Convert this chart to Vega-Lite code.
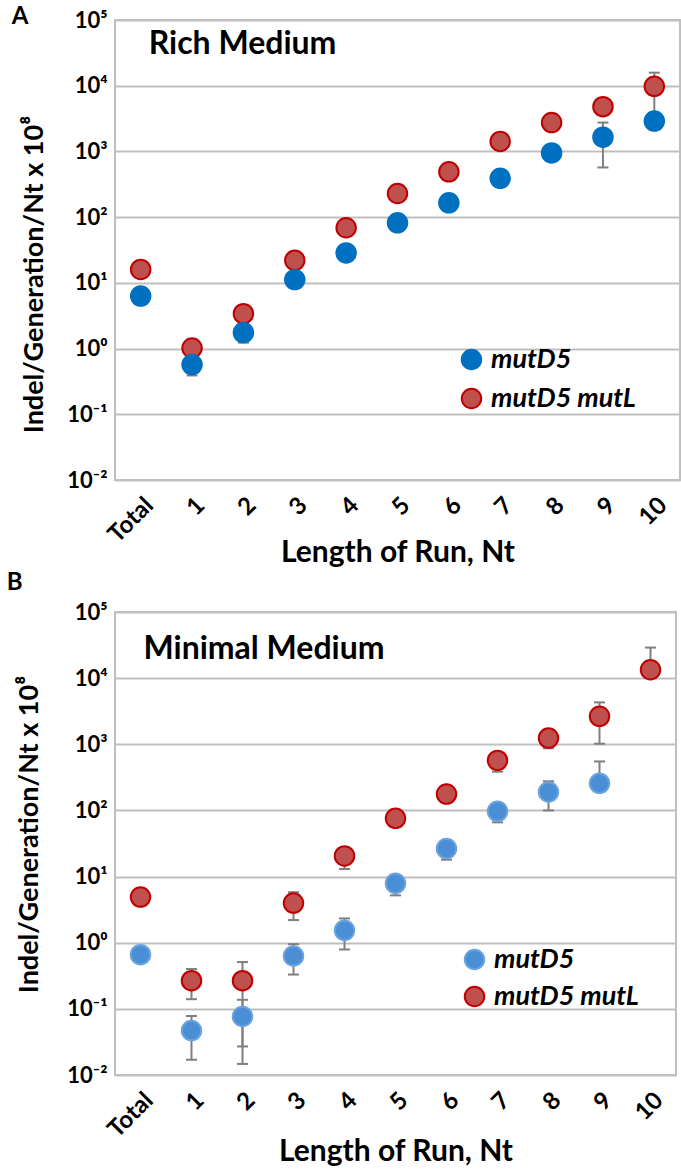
{
  "$schema": "https://vega.github.io/schema/vega-lite/v6.json",
  "background": "white",
  "padding": {"left": 5, "top": 4, "right": 0, "bottom": 0},
  "spacing": 1,
  "config": {
    "font": "Lato",
    "view": {"stroke": "#BFBFBF", "strokeWidth": 2},
    "axis": {"labelFont": "Lato", "labelFontWeight": "bold", "labelFontSize": 22, "labelColor": "#000", "titleFont": "Lato", "titleFontWeight": "bold", "titleFontSize": 27, "titleColor": "#000", "domain": false, "ticks": false, "gridColor": "#BFBFBF", "gridWidth": 2},
    "legend": {"labelFont": "Lato", "labelFontWeight": "bold", "labelFontStyle": "italic", "labelFontSize": 27, "labelColor": "#000", "symbolSize": 380, "symbolStrokeWidth": 2, "labelOffset": 6, "rowPadding": 10},
    "title": {"font": "Lato", "fontWeight": "bold", "fontSize": 24, "color": "#000"}
  },
  "datasets": {
    "rich": [
      {"run": "Total", "strain": "mutD5 mutL", "rate": 16},
      {"run": "1", "strain": "mutD5 mutL", "rate": 1.02},
      {"run": "2", "strain": "mutD5 mutL", "rate": 3.4},
      {"run": "3", "strain": "mutD5 mutL", "rate": 22},
      {"run": "4", "strain": "mutD5 mutL", "rate": 69},
      {"run": "5", "strain": "mutD5 mutL", "rate": 229},
      {"run": "6", "strain": "mutD5 mutL", "rate": 490},
      {"run": "7", "strain": "mutD5 mutL", "rate": 1420},
      {"run": "8", "strain": "mutD5 mutL", "rate": 2750},
      {"run": "9", "strain": "mutD5 mutL", "rate": 4800},
      {"run": "10", "strain": "mutD5 mutL", "rate": 9800, "lo": 3000, "hi": 15800},
      {"run": "Total", "strain": "mutD5", "rate": 6.3},
      {"run": "1", "strain": "mutD5", "rate": 0.57, "lo": 0.39, "hi": 0.57},
      {"run": "2", "strain": "mutD5", "rate": 1.75, "lo": 1.23, "hi": 1.75},
      {"run": "3", "strain": "mutD5", "rate": 11.2},
      {"run": "4", "strain": "mutD5", "rate": 28.5},
      {"run": "5", "strain": "mutD5", "rate": 82},
      {"run": "6", "strain": "mutD5", "rate": 165},
      {"run": "7", "strain": "mutD5", "rate": 390},
      {"run": "8", "strain": "mutD5", "rate": 950},
      {"run": "9", "strain": "mutD5", "rate": 1650, "lo": 570, "hi": 2750},
      {"run": "10", "strain": "mutD5", "rate": 2900}
    ],
    "minimal": [
      {"run": "Total", "strain": "mutD5 mutL", "rate": 4.9},
      {"run": "1", "strain": "mutD5 mutL", "rate": 0.267, "lo": 0.14, "hi": 0.40},
      {"run": "2", "strain": "mutD5 mutL", "rate": 0.267, "lo": 0.027, "hi": 0.51},
      {"run": "3", "strain": "mutD5 mutL", "rate": 3.97, "lo": 2.2, "hi": 5.8},
      {"run": "4", "strain": "mutD5 mutL", "rate": 20.5, "lo": 13, "hi": 27},
      {"run": "5", "strain": "mutD5 mutL", "rate": 76},
      {"run": "6", "strain": "mutD5 mutL", "rate": 177},
      {"run": "7", "strain": "mutD5 mutL", "rate": 570, "lo": 385, "hi": 570},
      {"run": "8", "strain": "mutD5 mutL", "rate": 1240, "lo": 870, "hi": 1240},
      {"run": "9", "strain": "mutD5 mutL", "rate": 2650, "lo": 1020, "hi": 4300},
      {"run": "10", "strain": "mutD5 mutL", "rate": 13400, "lo": 13400, "hi": 29000},
      {"run": "Total", "strain": "mutD5", "rate": 0.66},
      {"run": "1", "strain": "mutD5", "rate": 0.047, "lo": 0.017, "hi": 0.078},
      {"run": "2", "strain": "mutD5", "rate": 0.0766, "lo": 0.0147, "hi": 0.137},
      {"run": "3", "strain": "mutD5", "rate": 0.63, "lo": 0.33, "hi": 0.95},
      {"run": "4", "strain": "mutD5", "rate": 1.54, "lo": 0.79, "hi": 2.33},
      {"run": "5", "strain": "mutD5", "rate": 7.9, "lo": 5.2, "hi": 7.9},
      {"run": "6", "strain": "mutD5", "rate": 26.5, "lo": 18, "hi": 26.5},
      {"run": "7", "strain": "mutD5", "rate": 97, "lo": 66, "hi": 97},
      {"run": "8", "strain": "mutD5", "rate": 190, "lo": 100, "hi": 276},
      {"run": "9", "strain": "mutD5", "rate": 257, "lo": 257, "hi": 550}
    ]
  },
  "vconcat": [
    {
      "title": {"text": "A", "anchor": "start", "frame": "bounds", "dx": -9, "dy": 20, "offset": 0},
      "width": 565,
      "height": 460,
      "data": {"name": "rich"},
      "encoding": {
        "x": {"field": "run", "type": "nominal", "scale": {"type": "point", "domain": ["Total", "1", "2", "3", "4", "5", "6", "7", "8", "9", "10"], "padding": 0.5},
          "axis": {"title": "Length of Run, Nt", "titleFontSize": 30, "labelFontSize": 24, "labelAngle": -45, "labelPadding": 13, "titlePadding": -9, "grid": false}}
      },
      "layer": [
        {
          "mark": {"type": "rule", "color": "#7F7F7F", "strokeWidth": 2},
          "encoding": {
            "y": {"field": "lo", "type": "quantitative", "scale": {"type": "log", "domain": [0.01, 100000], "nice": false},
              "axis": {"title": "Indel/Generation/Nt x 10⁸", "titleY": 254, "values": [0.01, 0.1, 1, 10, 100, 1000, 10000, 100000], "grid": true, "labelPadding": 8, "titlePadding": 18,
                "labelExpr": "'10' + ['⁻²','⁻¹','⁰','¹','²','³','⁴','⁵'][round(log(datum.value)/LN10)+2]"}},
            "y2": {"field": "hi"}
          }
        },
        {
          "mark": {"type": "tick", "color": "#7F7F7F", "thickness": 2, "size": 11, "opacity": 1},
          "encoding": {"y": {"field": "lo", "type": "quantitative"}}
        },
        {
          "mark": {"type": "tick", "color": "#7F7F7F", "thickness": 2, "size": 11, "opacity": 1},
          "encoding": {"y": {"field": "hi", "type": "quantitative"}}
        },
        {
          "mark": {"type": "point", "shape": "circle", "filled": true, "size": 380, "strokeWidth": 2, "opacity": 1},
          "encoding": {
            "y": {"field": "rate", "type": "quantitative"},
            "fill": {"field": "strain", "type": "nominal", "scale": {"domain": ["mutD5", "mutD5 mutL"], "range": ["#0070C0", "#C0504D"]},
              "legend": {"title": null, "orient": "none", "legendX": 343, "legendY": 326}},
            "stroke": {"field": "strain", "type": "nominal", "scale": {"domain": ["mutD5", "mutD5 mutL"], "range": ["#0070C0", "#C00000"]},
              "legend": {"title": null, "orient": "none", "legendX": 343, "legendY": 326}}
          }
        },
        {
          "data": {"values": [{"label": "Rich Medium"}]},
          "mark": {"type": "text", "align": "left", "baseline": "alphabetic", "dx": 8, "font": "Lato", "fontWeight": "bold", "fontSize": 32, "color": "#000"},
          "encoding": {"x": {"datum": "Total"}, "y": {"datum": 30000}, "text": {"field": "label"}}
        }
      ]
    },
    {
      "title": {"text": "B", "anchor": "start", "frame": "bounds", "dx": -9, "dy": 0, "offset": 6},
      "width": 561,
      "height": 463,
      "data": {"name": "minimal"},
      "encoding": {
        "x": {"field": "run", "type": "nominal", "scale": {"type": "point", "domain": ["Total", "1", "2", "3", "4", "5", "6", "7", "8", "9", "10"], "padding": 0.5},
          "axis": {"title": "Length of Run, Nt", "titleFontSize": 30, "labelFontSize": 24, "labelAngle": -45, "labelPadding": 13, "titlePadding": -5, "grid": false}}
      },
      "layer": [
        {
          "mark": {"type": "rule", "color": "#7F7F7F", "strokeWidth": 2},
          "encoding": {
            "y": {"field": "lo", "type": "quantitative", "scale": {"type": "log", "domain": [0.01, 100000], "nice": false},
              "axis": {"title": "Indel/Generation/Nt x 10⁸", "titleY": 222, "values": [0.01, 0.1, 1, 10, 100, 1000, 10000, 100000], "grid": true, "labelPadding": 8, "titlePadding": 23,
                "labelExpr": "'10' + ['⁻²','⁻¹','⁰','¹','²','³','⁴','⁵'][round(log(datum.value)/LN10)+2]"}},
            "y2": {"field": "hi"}
          }
        },
        {
          "mark": {"type": "tick", "color": "#7F7F7F", "thickness": 2, "size": 11, "opacity": 1},
          "encoding": {"y": {"field": "lo", "type": "quantitative"}}
        },
        {
          "mark": {"type": "tick", "color": "#7F7F7F", "thickness": 2, "size": 11, "opacity": 1},
          "encoding": {"y": {"field": "hi", "type": "quantitative"}}
        },
        {
          "mark": {"type": "point", "shape": "circle", "filled": true, "size": 380, "strokeWidth": 2, "opacity": 1},
          "encoding": {
            "y": {"field": "rate", "type": "quantitative"},
            "fill": {"field": "strain", "type": "nominal", "scale": {"domain": ["mutD5", "mutD5 mutL"], "range": ["#4A8FD6", "#C0504D"]},
              "legend": {"title": null, "orient": "none", "legendX": 346, "legendY": 334, "rowPadding": 8}},
            "stroke": {"field": "strain", "type": "nominal", "scale": {"domain": ["mutD5", "mutD5 mutL"], "range": ["#6AA3DE", "#C00000"]},
              "legend": {"title": null, "orient": "none", "legendX": 346, "legendY": 334, "rowPadding": 8}}
          }
        },
        {
          "data": {"values": [{"label": "Minimal Medium"}]},
          "mark": {"type": "text", "align": "left", "baseline": "alphabetic", "dx": 3, "font": "Lato", "fontWeight": "bold", "fontSize": 32, "color": "#000"},
          "encoding": {"x": {"datum": "Total"}, "y": {"datum": 19500}, "text": {"field": "label"}}
        }
      ]
    }
  ],
  "resolve": {"scale": {"fill": "independent", "stroke": "independent"}}
}
